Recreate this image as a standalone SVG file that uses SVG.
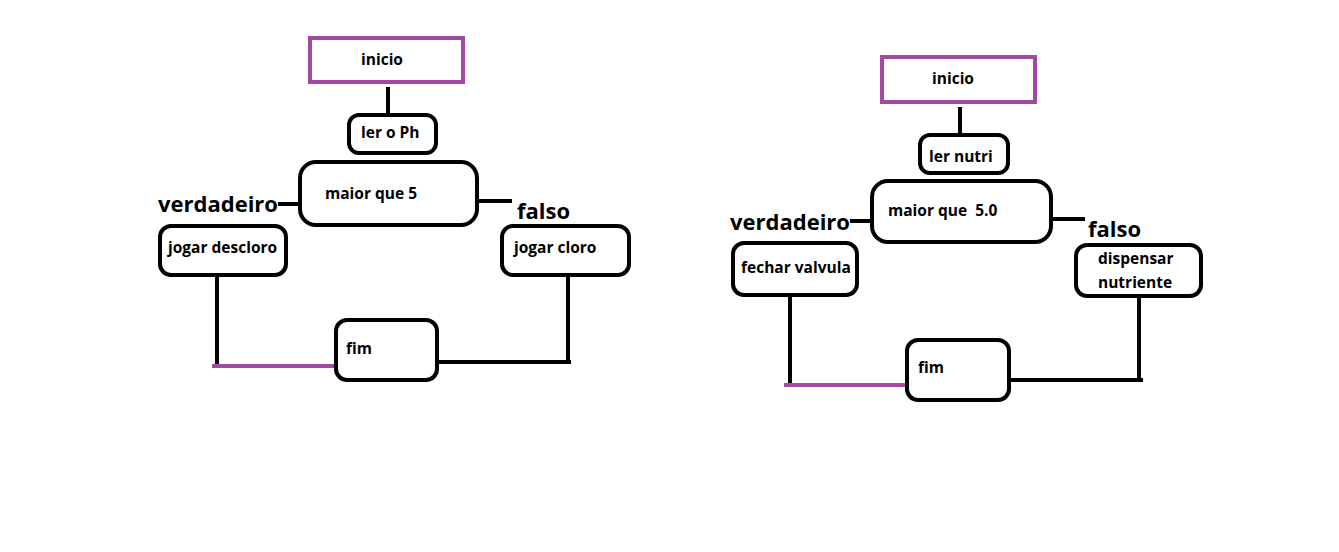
<svg xmlns="http://www.w3.org/2000/svg" width="1339" height="552" viewBox="0 0 1339 552">
<style>
.box{fill:#fff;stroke:#000;stroke-width:4}
.start{fill:#fff;stroke:#A349A4;stroke-width:4}
.t{font-family:"Open Sans",sans-serif;font-weight:bold;font-size:15.5px;fill:#000}
.big{font-family:"Open Sans",sans-serif;font-weight:bold;font-size:22px;fill:#000}
.c{stroke:#000;stroke-width:4;fill:none}
.p{stroke:#A349A4;stroke-width:4;fill:none}
</style>
<rect width="1339" height="552" fill="#fff"/>
<g id="connectors">
<line class="c" x1="388" y1="87" x2="388" y2="116"/>
<line class="c" x1="278" y1="204" x2="302" y2="204"/>
<line class="c" x1="475" y1="201" x2="512" y2="201"/>
<line class="c" x1="217" y1="273" x2="217" y2="366"/>
<line class="p" x1="212" y1="366" x2="338" y2="366"/>
<line class="c" x1="568" y1="273" x2="568" y2="362"/>
<line class="c" x1="435" y1="362" x2="571" y2="362"/>
<line class="c" x1="960" y1="107" x2="960" y2="136"/>
<line class="c" x1="850" y1="221" x2="874" y2="221"/>
<line class="c" x1="1049" y1="219" x2="1085" y2="219"/>
<line class="c" x1="790" y1="293" x2="790" y2="385"/>
<line class="p" x1="784" y1="385" x2="909" y2="385"/>
<line class="c" x1="1139" y1="294" x2="1139" y2="380"/>
<line class="c" x1="1006" y1="380" x2="1143" y2="380"/>
</g>
<g id="inicio1"><rect class="start" x="310" y="38" width="153" height="44"/><text class="t" x="382" y="65" text-anchor="middle">inicio</text></g>
<g id="ler1"><rect class="box" x="349" y="115" width="87" height="38" rx="10"/><text class="t" x="361" y="138">ler o Ph</text></g>
<g id="maior1"><rect class="box" x="300" y="162" width="177" height="63" rx="16"/><text class="t" x="325" y="199">maior que 5</text></g>
<g id="verd1"><text class="big" x="158" y="212">verdadeiro</text></g>
<g id="falso1"><text class="big" x="517" y="219">falso</text></g>
<g id="desc1"><rect class="box" x="160" y="226" width="126" height="49" rx="11"/><text class="t" x="168" y="253">jogar descloro</text></g>
<g id="cloro1"><rect class="box" x="502" y="226" width="127" height="49" rx="11"/><text class="t" x="514" y="253">jogar cloro</text></g>
<g id="fim1"><rect class="box" x="336" y="320" width="101" height="60" rx="11"/><text class="t" x="346" y="354">fim</text></g>
<g id="inicio2"><rect class="start" x="882" y="57" width="153" height="45"/><text class="t" x="953" y="84" text-anchor="middle">inicio</text></g>
<g id="ler2"><rect class="box" x="920" y="135" width="88" height="38" rx="10"/><text class="t" x="929" y="162">ler nutri</text></g>
<g id="maior2"><rect class="box" x="872" y="181" width="179" height="61" rx="16"/><text class="t" x="888" y="216" xml:space="preserve">maior que  5.0</text></g>
<g id="verd2"><text class="big" x="730" y="230">verdadeiro</text></g>
<g id="falso2"><text class="big" x="1088" y="237">falso</text></g>
<g id="fechar2"><rect class="box" x="733" y="243" width="124" height="52" rx="11"/><text class="t" x="741" y="273">fechar valvula</text></g>
<g id="disp2"><rect class="box" x="1076" y="245" width="125" height="51" rx="11"/><text class="t" x="1098" y="264">dispensar</text><text class="t" x="1098" y="288">nutriente</text></g>
<g id="fim2"><rect class="box" x="907" y="340" width="102" height="60" rx="11"/><text class="t" x="918" y="373">fim</text></g>
</svg>
